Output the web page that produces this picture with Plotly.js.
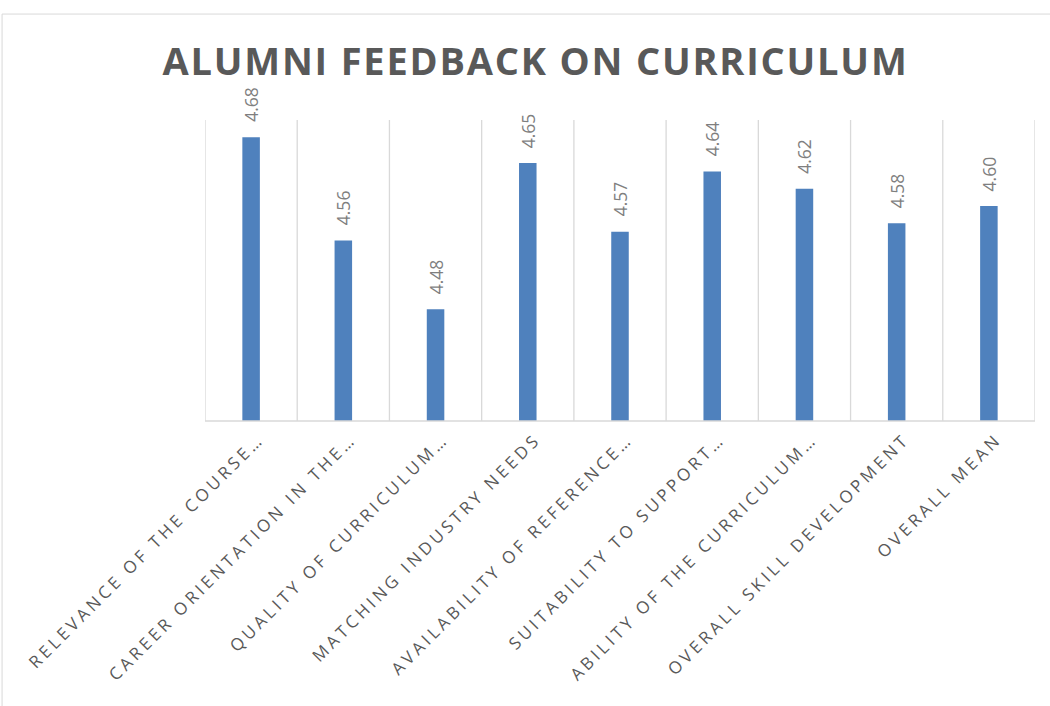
<!DOCTYPE html>
<html>
<head>
<meta charset="utf-8">
<script src="https://cdn.plot.ly/plotly-3.0.1.min.js"></script>
<style>
html,body{margin:0;padding:0;background:#fff;}
#chart{width:1050px;height:706px;}
.xtick text{letter-spacing:3.6px;}
.gtitle{letter-spacing:1.8px;}
</style>
</head>
<body>
<div id="chart"></div>
<script>
const categories = [
  "RELEVANCE OF THE COURSE…",
  "CAREER ORIENTATION IN THE…",
  "QUALITY OF CURRICULUM…",
  "MATCHING INDUSTRY NEEDS",
  "AVAILABILITY OF REFERENCE…",
  "SUITABILITY TO SUPPORT…",
  "ABILITY OF THE CURRICULUM…",
  "OVERALL SKILL DEVELOPMENT",
  "OVERALL MEAN"
];
const values = [4.68, 4.56, 4.48, 4.65, 4.57, 4.64, 4.62, 4.58, 4.60];
const valueLabels = values.map(v => v.toFixed(2));

const trace = {
  type: 'bar',
  x: categories.map((c, i) => i),
  y: values,
  width: 0.19,
  marker: {color: '#4F81BD'},
  hoverinfo: 'x+y',
  cliponaxis: false
};

const annotations = values.map((v, i) => ({
  x: i, y: v, xref: 'x', yref: 'y',
  text: valueLabels[i],
  showarrow: false,
  textangle: -90,
  yanchor: 'bottom',
  xanchor: 'center',
  yshift: 13,
  font: {family: 'Open Sans, sans-serif', size: 17.5, color: '#7F7F7F'}
}));

const shapes = [];
for (let i = 0; i <= categories.length; i++) {
  shapes.push({type: 'line', xref: 'x', yref: 'paper', x0: i - 0.5, x1: i - 0.5, y0: 0, y1: 1,
    line: {color: '#D9D9D9', width: 1.3}, layer: 'below'});
}
shapes.push({type: 'line', xref: 'x', yref: 'paper', x0: -0.5, x1: categories.length - 0.5, y0: 0, y1: 0,
  line: {color: '#D9D9D9', width: 1.3}, layer: 'above'});
// outer chart frame
shapes.push({type: 'line', xref: 'paper', yref: 'paper', x0: -0.2445, x1: -0.2445, y0: 1.352, y1: -1.1,
  line: {color: '#D9D9D9', width: 1}});
shapes.push({type: 'line', xref: 'paper', yref: 'paper', x0: -0.2445, x1: 1.1, y0: 1.352, y1: 1.352,
  line: {color: '#D9D9D9', width: 1}});

const layout = {
  width: 1050, height: 706,
  margin: {l: 205, r: 15, t: 120, b: 285},
  paper_bgcolor: '#FFFFFF', plot_bgcolor: '#FFFFFF',
  showlegend: false,
  title: {
    text: '<b>ALUMNI FEEDBACK ON CURRICULUM</b>',
    x: 0.51, xanchor: 'center', y: 0.912, yanchor: 'middle',
    font: {family: 'Open Sans, sans-serif', size: 38, color: '#595959'}
  },
  xaxis: {
    type: 'linear',
    range: [-0.5, categories.length - 0.5],
    tickmode: 'array',
    tickvals: categories.map((c, i) => i),
    ticktext: categories,
    tickangle: -45,
    ticklabelstandoff: 4,
    ticklabelshift: 8,
    showgrid: false, zeroline: false, showline: false, ticks: '',
    tickfont: {family: 'Open Sans, sans-serif', size: 17, color: '#595959'},
    fixedrange: true
  },
  yaxis: {
    range: [4.35, 4.70],
    visible: false, showgrid: false, zeroline: false, fixedrange: true
  },
  annotations: annotations,
  shapes: shapes
};

Plotly.newPlot('chart', [trace], layout, {displayModeBar: false, staticPlot: true});
</script>
</body>
</html>
